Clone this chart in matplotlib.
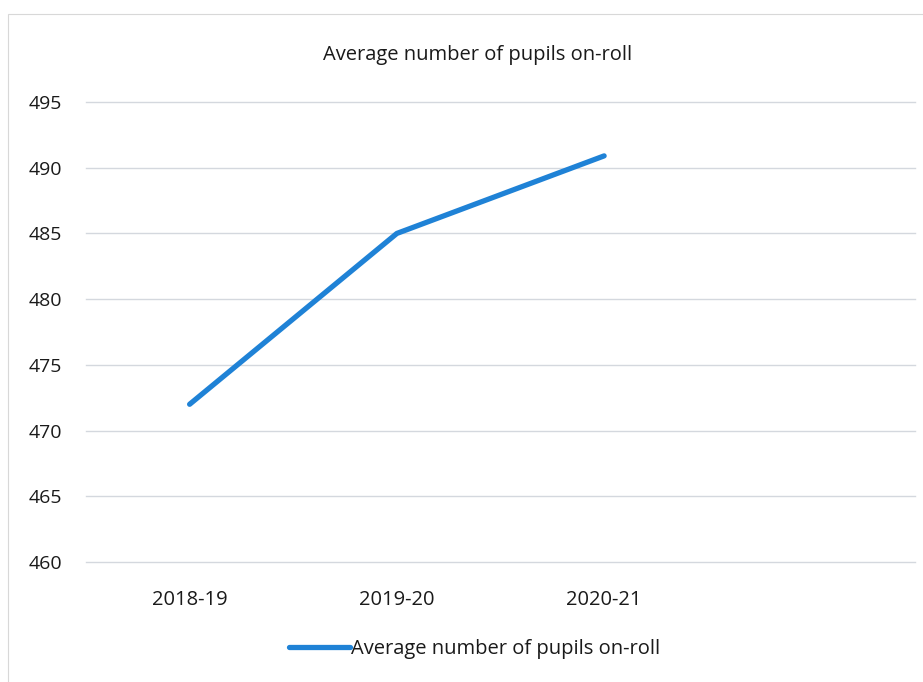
import matplotlib
matplotlib.use("Agg")
import matplotlib.pyplot as plt
from matplotlib.patches import Rectangle
from matplotlib.lines import Line2D

categories = ["2018-19", "2019-20", "2020-21", ""]
pupils = [472.0, 485.0, 490.9]
y_ticks = [460, 465, 470, 475, 480, 485, 490, 495]
title = "Average number of pupils on-roll"
series_name = "Average number of pupils on-roll"

plt.rcParams["font.family"] = ["Open Sans", "DejaVu Sans"]
text_color = "#1a1a1a"
line_color = "#1f82d6"
grid_color = "#d4d8de"

fig = plt.figure(figsize=(9.23, 6.82), dpi=100)
fig.patch.set_facecolor("white")

# light chart-area frame
fig.add_artist(Rectangle((8 / 923, -0.02), 1.1, (682 - 14) / 682 + 0.02,
                         transform=fig.transFigure, fill=False,
                         edgecolor="#d8d8d8", linewidth=0.8))

ax = fig.add_axes([86 / 923, (682 - 562) / 682, (915 - 86) / 923, (562 - 102) / 682])
x = list(range(len(categories)))
ax.plot(x[:len(pupils)], pupils, color=line_color, linewidth=3.8,
        solid_capstyle="round", solid_joinstyle="round", zorder=3)

ax.set_xlim(-0.5, len(categories) - 0.5)
ax.set_ylim(460, 495)
ax.set_yticks(y_ticks)
ax.set_xticks(x)
ax.set_xticklabels(categories)
ax.yaxis.grid(True, color=grid_color, linewidth=1.0)
for gl in ax.get_ygridlines():
    gl.set_clip_on(False)
ax.set_axisbelow(True)
for s in ax.spines.values():
    s.set_visible(False)
ax.tick_params(axis="y", length=0, labelsize=14, colors=text_color, pad=17)
ax.tick_params(axis="x", length=0, labelsize=14.5, colors=text_color, pad=20)

fig.text(0.517, (682 - 55) / 682, title, ha="center", va="center",
         fontsize=14.5, color=text_color)

handle = Line2D([], [], color=line_color, linewidth=3.8, solid_capstyle="round")
fig.legend([handle], [series_name], loc="center", bbox_to_anchor=(0.514, (682 - 649) / 682),
           frameon=False, fontsize=14.5, handlelength=3.0, handletextpad=0.05,
           labelcolor=text_color)

fig.savefig("out.png", dpi=100)
